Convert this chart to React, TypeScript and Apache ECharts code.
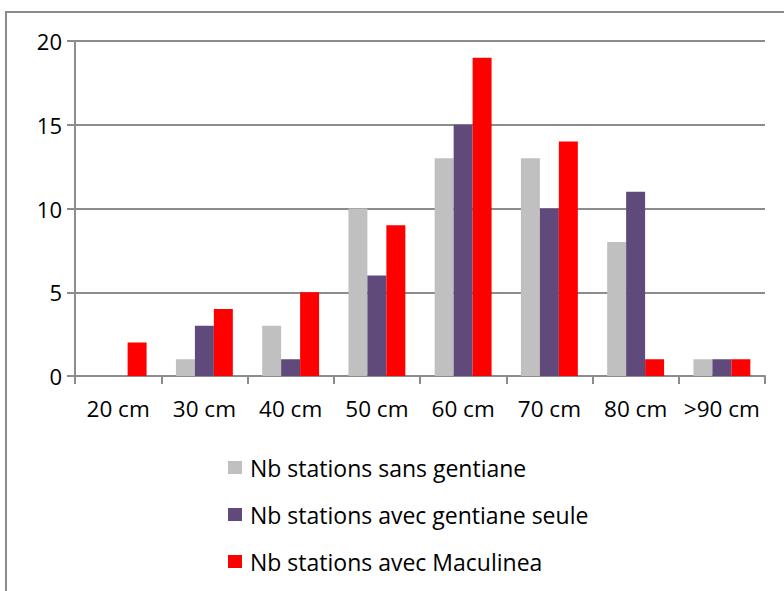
import React, { useEffect, useRef } from "react";
import * as echarts from "echarts";

const categories = ["20 cm", "30 cm", "40 cm", "50 cm", "60 cm", "70 cm", "80 cm", ">90 cm"];
const sansGentiane = [0, 1, 3, 10, 13, 13, 8, 1];
const gentianeSeule = [0, 3, 1, 6, 15, 10, 11, 1];
const maculinea = [2, 4, 5, 9, 19, 14, 1, 1];
const seriesNames = [
  "Nb stations sans gentiane",
  "Nb stations avec gentiane seule",
  "Nb stations avec Maculinea",
];
const colors = ["#C0C0C0", "#604A7B", "#FF0000"];

const FONT = "'Open Sans', 'Noto Sans', sans-serif";
const AXIS_COLOR = "#8C8C8C";

export default function App() {
  const ref = useRef<HTMLDivElement>(null);
  useEffect(() => {
    if (!ref.current) return;
    const chart = echarts.init(ref.current, null, { renderer: "svg" });
    const data = [sansGentiane, gentianeSeule, maculinea];
    chart.setOption({
      animation: false,
      backgroundColor: "#FFFFFF",
      textStyle: { fontFamily: FONT },
      graphic: [
        {
          type: "rect",
          shape: { x: 6, y: 12, width: 820, height: 620 },
          style: { fill: "none", stroke: AXIS_COLOR, lineWidth: 2 },
          silent: true,
        },
      ],
      grid: { left: 75, right: 19, top: 41, bottom: 215, containLabel: false },
      legend: {
        orient: "vertical",
        left: 223,
        top: 451,
        itemWidth: 14,
        itemHeight: 13,
        itemGap: 24,
        icon: "rect",
        data: seriesNames,
        textStyle: { fontFamily: FONT, fontSize: 23, color: "#000000", padding: [0, 0, 0, 3] },
      },
      xAxis: {
        type: "category",
        data: categories,
        boundaryGap: true,
        axisLine: { show: true, lineStyle: { color: AXIS_COLOR, width: 2 } },
        axisTick: { show: true, alignWithLabel: false, length: 8, lineStyle: { color: AXIS_COLOR, width: 2 } },
        axisLabel: { color: "#000000", fontFamily: FONT, fontSize: 22.5, margin: 21, interval: 0 },
        splitLine: { show: false },
      },
      yAxis: {
        type: "value",
        min: 0,
        max: 20,
        interval: 5,
        axisLine: { show: true, lineStyle: { color: AXIS_COLOR, width: 2 } },
        axisTick: { show: true, length: 8, lineStyle: { color: AXIS_COLOR, width: 2 } },
        axisLabel: { color: "#000000", fontFamily: FONT, fontSize: 22, margin: 13 },
        splitLine: { show: true, lineStyle: { color: AXIS_COLOR, width: 2 } },
      },
      series: data.map((d, i) => ({
        name: seriesNames[i],
        type: "bar",
        data: d,
        barGap: "0%",
        barCategoryGap: "34%",
        itemStyle: { color: colors[i] },
      })),
    });
    return () => chart.dispose();
  }, []);
  return (
    <div
      ref={ref}
      style={{ position: "fixed", left: 0, top: 0, width: 784, height: 591 }}
    />
  );
}
